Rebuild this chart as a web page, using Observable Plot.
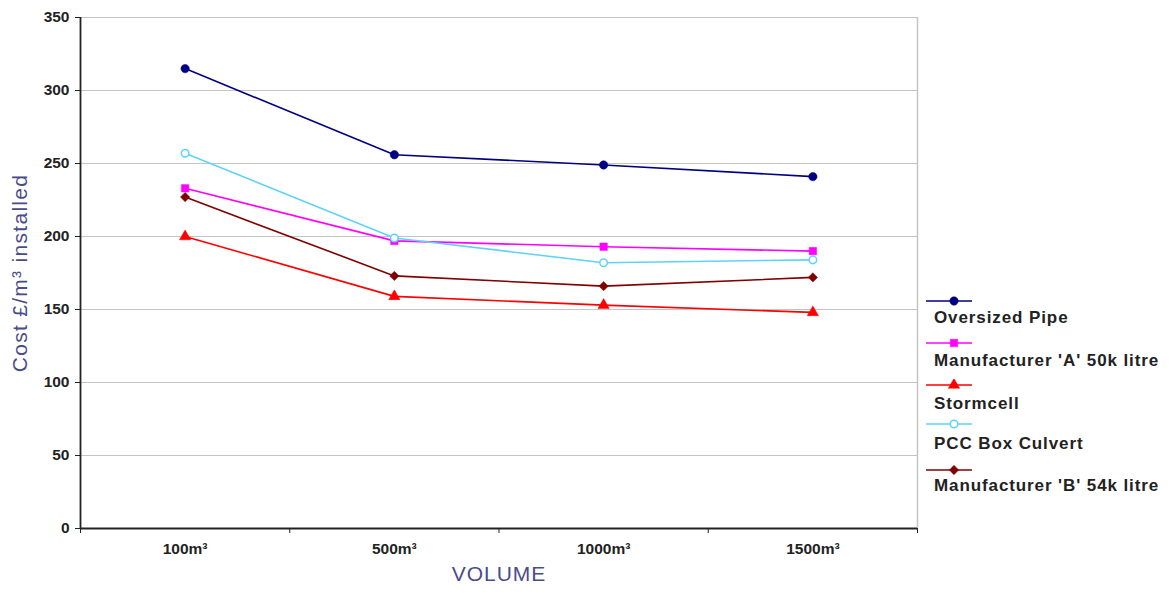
<!DOCTYPE html>
<html><head><meta charset="utf-8">
<script src="https://cdn.jsdelivr.net/npm/d3@7"></script>
<script src="https://cdn.jsdelivr.net/npm/@observablehq/plot@0.6"></script>
<style>
body{margin:0;background:#fff;font-family:"Liberation Sans",Arial,sans-serif;}
#wrap{position:relative;width:1173px;height:593px;overflow:hidden;}
#chart{position:absolute;left:0;top:0;}
.lgsym{position:absolute;left:924px;display:block;}
.lgtxt{position:absolute;left:934px;font-weight:bold;font-size:17px;line-height:20px;color:#222;letter-spacing:0.9px;white-space:nowrap;}
</style>
</head><body>
<div id="wrap"><div id="chart"></div><div id="legend"></div></div>
<script>
// ---- data ----
const categories = ["100m³", "500m³", "1000m³", "1500m³"];
const seriesNames = ["Oversized Pipe", "Manufacturer 'A' 50k litre", "Stormcell", "PCC Box Culvert", "Manufacturer 'B' 54k litre"];
const oversizedPipe = [315, 256, 249, 241];
const manufacturerA = [233, 197, 193, 190];
const stormcell = [200, 159, 153, 148];
const pccBoxCulvert = [257, 199, 182, 184];
const manufacturerB = [227, 173, 166, 172];
const yTicks = [0, 50, 100, 150, 200, 250, 300, 350];
const seriesColors = ["#000080", "#ff00ff", "#ff0000", "#5fd3f7", "#800000"];
const seriesSymbols = ["circle", "square", "triangle", "circle", "diamond2"];
const hollowSeries = ["PCC Box Culvert"];

const seriesValues = [oversizedPipe, manufacturerA, stormcell, pccBoxCulvert, manufacturerB];
const rows = [];
seriesNames.forEach((s, si) => seriesValues[si].forEach((v, ci) => rows.push({series: s, cat: ci + 0.5, value: v})));

const chart = Plot.plot({
  width: 920, height: 593,
  marginLeft: 80, marginRight: 3, marginTop: 17, marginBottom: 65,
  style: {fontFamily: "'Liberation Sans', Arial, sans-serif", background: "white"},
  x: {domain: [0, categories.length], axis: null},
  y: {domain: [0, 350], axis: null},
  color: {domain: seriesNames, range: seriesColors},
  symbol: {domain: seriesNames, range: seriesSymbols},
  marks: [
    Plot.gridY({ticks: yTicks, stroke: "#c4c4c4", strokeOpacity: 1, strokeWidth: 1.2}),
    Plot.ruleX([categories.length], {stroke: "#c4c4c4", strokeWidth: 1.5}),
    Plot.axisY({ticks: yTicks, tickSize: 5, tickPadding: 6, fontSize: 15.5, fontWeight: "bold", color: "#222", label: null}),
    Plot.axisX({ticks: d3.range(categories.length + 1), tickFormat: () => "", tickSize: 5, color: "#222", label: null}),
    Plot.axisX({ticks: categories.map((_, i) => i + 0.5), tickFormat: i => categories[Math.floor(i)], tickSize: 0, tickPadding: 14, fontSize: 15.5, fontWeight: "bold", color: "#222", label: null}),
    Plot.ruleX([0], {stroke: "#222", strokeWidth: 1.8}),
    Plot.ruleY([0], {stroke: "#222", strokeWidth: 1.8}),
    Plot.line(rows, {x: "cat", y: "value", z: "series", stroke: "series", strokeWidth: 1.6}),
    Plot.dot(rows.filter(d => !hollowSeries.includes(d.series)), {x: "cat", y: "value", symbol: "series", fill: "series", stroke: "series", strokeWidth: 0.5, r: 4.2}),
    Plot.dot(rows.filter(d => hollowSeries.includes(d.series)), {x: "cat", y: "value", symbol: "series", fill: "white", stroke: "series", strokeWidth: 1.5, r: 3.8}),
    Plot.text(["Cost £/m³ installed"], {frameAnchor: "left", rotate: -90, dx: -60, fontSize: 21, fill: "#4b4b8c", textAnchor: "middle"}),
    Plot.text(["VOLUME"], {frameAnchor: "bottom", dy: 52, fontSize: 21, fill: "#4b4b8c", textAnchor: "middle"})
  ]
});
document.getElementById("chart").appendChild(chart);
d3.select(chart).selectAll("text").filter(function() { return this.textContent === "VOLUME"; }).style("letter-spacing", "1px");
d3.select(chart).selectAll("text").filter(function() { return this.textContent === "Cost £/m³ installed"; }).style("letter-spacing", "1.3px");

// ---- legend ----
const legend = d3.select("#legend");
const legendLineY = [301, 343, 385, 424, 470];
const legendTextY = [318, 361, 404, 444, 486];
const symTypes = {circle: d3.symbolCircle, square: d3.symbolSquare, triangle: d3.symbolTriangle, diamond2: d3.symbolDiamond2};
seriesNames.forEach((s, i) => {
  const svg = legend.append("svg").attr("class", "lgsym").style("top", (legendLineY[i] - 6) + "px").attr("width", 52).attr("height", 12);
  svg.append("line").attr("x1", 2).attr("x2", 48).attr("y1", 6).attr("y2", 6).attr("stroke", seriesColors[i]).attr("stroke-width", 1.5);
  const hollow = hollowSeries.includes(s);
  const r = hollow ? 3.8 : 4.2;
  svg.append("path").attr("transform", "translate(30,6)").attr("d", d3.symbol(symTypes[seriesSymbols[i]], Math.PI * r * r)())
    .attr("fill", hollow ? "white" : seriesColors[i]).attr("stroke", seriesColors[i]).attr("stroke-width", hollow ? 1.5 : 0.5);
  legend.append("div").attr("class", "lgtxt").style("top", (legendTextY[i] - 10) + "px").text(s);
});
</script>
</body></html>
